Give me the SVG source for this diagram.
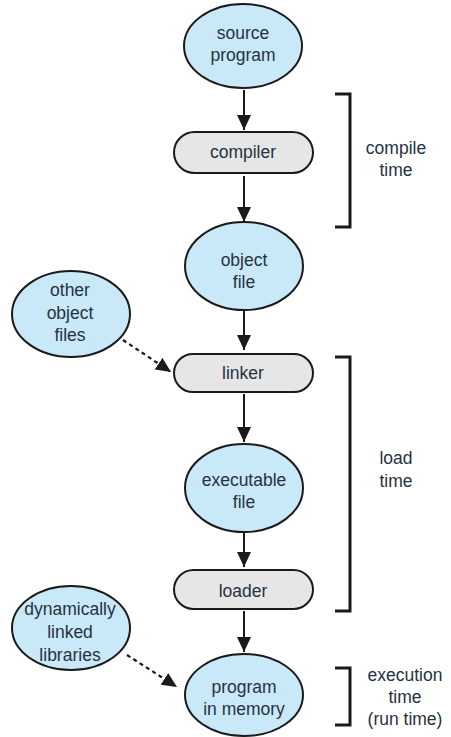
<svg xmlns="http://www.w3.org/2000/svg" width="451" height="737" viewBox="0 0 451 737">
<defs>
<style>
.ell{fill:#c9e9f9;stroke:#1a1a1a;stroke-width:2}
.pill{fill:#e6e6e6;stroke:#1a1a1a;stroke-width:2}
text{font-family:"Liberation Sans",Arial,sans-serif;font-size:17.5px;fill:#26323f;text-anchor:middle}
.arr{stroke:#1a1a1a;stroke-width:2;fill:none;marker-end:url(#ah)}
.dash{stroke:#1a1a1a;stroke-width:2.2;fill:none;stroke-dasharray:4 3.5;marker-end:url(#ah)}
.br{stroke:#1a1a1a;stroke-width:3;fill:none}
</style>
<marker id="ah" markerUnits="userSpaceOnUse" markerWidth="15" markerHeight="14" viewBox="0 0 15 14" refX="15" refY="7" orient="auto">
<path d="M0,0 L15,7 L0,14 Z" fill="#1a1a1a"/>
</marker>
</defs>
<g id="connectors">
<line class="arr" x1="244" y1="90" x2="244" y2="130"/>
<line class="arr" x1="244" y1="176" x2="244" y2="222"/>
<line class="arr" x1="244" y1="311" x2="244" y2="350"/>
<line class="arr" x1="244" y1="394" x2="244" y2="442"/>
<line class="arr" x1="244" y1="532" x2="244" y2="567"/>
<line class="arr" x1="244" y1="611" x2="244" y2="652"/>
<line class="dash" x1="123" y1="340" x2="171" y2="372"/>
<line class="dash" x1="127" y1="655" x2="177" y2="687"/>
</g>
<g id="source-program">
<ellipse class="ell" cx="243" cy="46" rx="59" ry="42"/>
<text x="243" y="39">source</text>
<text x="243" y="61">program</text>
</g>
<g id="compiler">
<rect class="pill" x="174" y="132" width="139" height="41" rx="20.5"/>
<text x="243" y="158">compiler</text>
</g>
<g id="object-file">
<ellipse class="ell" cx="244" cy="266" rx="59" ry="44"/>
<text x="244" y="266">object</text>
<text x="244" y="288">file</text>
</g>
<g id="other-object-files">
<ellipse class="ell" cx="71" cy="314" rx="59" ry="43"/>
<text x="70" y="296">other</text>
<text x="70" y="319">object</text>
<text x="70" y="341">files</text>
</g>
<g id="linker">
<rect class="pill" x="174" y="354" width="139" height="38" rx="19"/>
<text x="243" y="379">linker</text>
</g>
<g id="executable-file">
<ellipse class="ell" cx="244" cy="488" rx="59" ry="44"/>
<text x="244" y="486">executable</text>
<text x="244" y="508">file</text>
</g>
<g id="loader">
<rect class="pill" x="174" y="570" width="139" height="39" rx="19.5"/>
<text x="243" y="597">loader</text>
</g>
<g id="dynamically-linked-libraries">
<ellipse class="ell" cx="71" cy="628" rx="59" ry="42"/>
<text x="70" y="615">dynamically</text>
<text x="70" y="638">linked</text>
<text x="70" y="661">libraries</text>
</g>
<g id="program-in-memory">
<ellipse class="ell" cx="244" cy="695" rx="59" ry="41"/>
<text x="244" y="693">program</text>
<text x="244" y="715">in memory</text>
</g>
<g id="compile-time">
<polyline class="br" points="335,94 350,94 350,227 335,227"/>
<text x="396" y="154">compile</text>
<text x="396" y="176">time</text>
</g>
<g id="load-time">
<polyline class="br" points="335,357 350,357 350,611 335,611"/>
<text x="396" y="464">load</text>
<text x="396" y="487">time</text>
</g>
<g id="execution-time">
<polyline class="br" points="335,668 350,668 350,725 335,725"/>
<text x="405" y="681">execution</text>
<text x="405" y="703">time</text>
<text x="405" y="725">(run time)</text>
</g>
</svg>
